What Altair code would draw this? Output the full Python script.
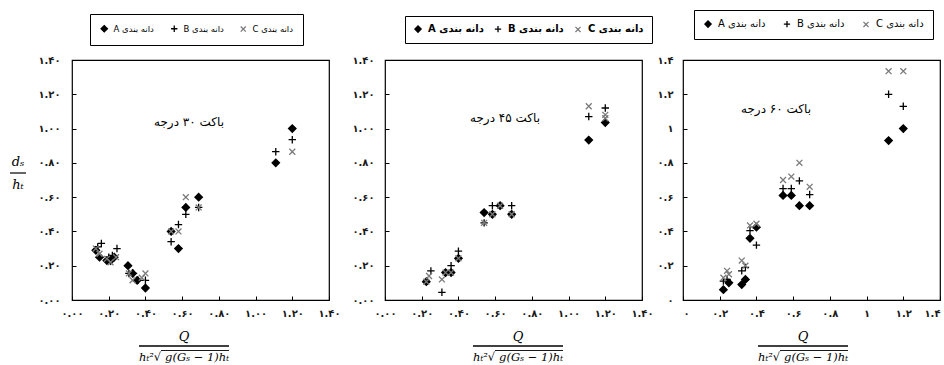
import altair as alt
import pandas as pd

SERIES = ["دانه بندی A", "دانه بندی B", "دانه بندی C"]

# Panel 1 : باکت ۳۰ درجه
p1_ax = [0.13, 0.15, 0.19, 0.21, 0.23, 0.305, 0.33, 0.355, 0.40, 0.54, 0.58, 0.62, 0.69, 1.11, 1.20]
p1_ay = [0.29, 0.25, 0.23, 0.23, 0.25, 0.20, 0.155, 0.115, 0.07, 0.40, 0.30, 0.54, 0.60, 0.80, 1.00]
p1_bx = [0.14, 0.16, 0.20, 0.22, 0.245, 0.31, 0.335, 0.36, 0.40, 0.54, 0.58, 0.62, 0.69, 1.11, 1.20]
p1_by = [0.31, 0.33, 0.25, 0.26, 0.30, 0.155, 0.155, 0.115, 0.115, 0.34, 0.44, 0.50, 0.54, 0.865, 0.935]
p1_cx = [0.13, 0.15, 0.19, 0.21, 0.24, 0.31, 0.33, 0.38, 0.40, 0.54, 0.58, 0.62, 0.69, 1.20]
p1_cy = [0.30, 0.27, 0.24, 0.22, 0.25, 0.155, 0.115, 0.13, 0.155, 0.40, 0.40, 0.60, 0.54, 0.865]

# Panel 2 : باکت ۴۵ درجه
p2_ax = [0.225, 0.33, 0.36, 0.40, 0.54, 0.585, 0.627, 0.69, 1.11, 1.20]
p2_ay = [0.107, 0.16, 0.16, 0.243, 0.51, 0.50, 0.55, 0.50, 0.933, 1.035]
p2_bx = [0.25, 0.31, 0.36, 0.40, 0.54, 0.585, 0.69, 1.11, 1.20]
p2_by = [0.17, 0.045, 0.20, 0.285, 0.45, 0.55, 0.55, 1.07, 1.12]
p2_cx = [0.225, 0.24, 0.31, 0.33, 0.36, 0.40, 0.54, 0.585, 0.627, 0.69, 1.11, 1.20, 1.20]
p2_cy = [0.107, 0.14, 0.12, 0.16, 0.16, 0.243, 0.45, 0.50, 0.55, 0.50, 1.13, 1.08, 1.06]

# Panel 3 : باکت ۶۰ درجه
p3_ax = [0.22, 0.25, 0.32, 0.34, 0.365, 0.40, 0.545, 0.59, 0.634, 0.69, 1.12, 1.20]
p3_ay = [0.06, 0.10, 0.09, 0.12, 0.36, 0.425, 0.61, 0.61, 0.55, 0.55, 0.93, 1.00]
p3_bx = [0.22, 0.24, 0.32, 0.34, 0.365, 0.40, 0.545, 0.59, 0.634, 0.69, 1.12, 1.20]
p3_by = [0.11, 0.12, 0.17, 0.19, 0.405, 0.32, 0.65, 0.65, 0.695, 0.615, 1.20, 1.13]
p3_cx = [0.22, 0.24, 0.25, 0.32, 0.34, 0.365, 0.40, 0.545, 0.59, 0.634, 0.69, 1.12, 1.20]
p3_cy = [0.13, 0.17, 0.15, 0.23, 0.20, 0.435, 0.445, 0.70, 0.72, 0.80, 0.66, 1.335, 1.335]

TICKS = [0, 0.2, 0.4, 0.6, 0.8, 1.0, 1.2, 1.4]
LABELS_2DP = ["۰.۰۰", "۰.۲۰", "۰.۴۰", "۰.۶۰", "۰.۸۰", "۱.۰۰", "۱.۲۰", "۱.۴۰"]
LABELS_1DP = ["۰", "۰.۲", "۰.۴", "۰.۶", "۰.۸", "۱", "۱.۲", "۱.۴"]
TITLES = ["باکت ۳۰ درجه", "باکت ۴۵ درجه", "باکت ۶۰ درجه"]

PLUS = "M-1,0L1,0M0,-1L0,1"
CROSS = "M-0.8,-0.8L0.8,0.8M-0.8,0.8L0.8,-0.8"
W, H = 257, 240
PERSIAN = "DejaVu Sans"
MATH = "DejaVu Serif"


def frame(ax, ay, bx, by, cx, cy):
    rows = []
    for name, xs, ys in zip(SERIES, [ax, bx, cx], [ay, by, cy]):
        for a, b in zip(xs, ys):
            rows.append({"x": a, "y": b, "g": name})
    return pd.DataFrame(rows)


def one():
    return alt.Data(values=[{}])


def text(t, x, y, size, font, style="normal", weight="normal", align="center"):
    return alt.Chart(one()).mark_text(
        text=t, fontSize=size, font=font, fontStyle=style, fontWeight=weight,
        align=align, baseline="middle", color="black"
    ).encode(x=alt.value(x), y=alt.value(y))


def rule(x1, x2, y, w=1.2):
    return alt.Chart(one()).mark_rule(color="black", strokeWidth=w).encode(
        x=alt.value(x1), x2=alt.value(x2), y=alt.value(y))


def label_expr(labels):
    arr = "[" + ",".join("'" + s + "'" for s in labels) + "]"
    return arr + "[round(datum.value*5)]"


def panel(df, labels, legend, title, tpos, cx, ylabpad, ytitle=False, flush=False):
    common = dict(values=TICKS, labelExpr=label_expr(labels), title=None, grid=False,
                  domain=False, tickSize=4, offset=-4, tickColor="black",
                  labelFont=PERSIAN, labelFontSize=10, labelFontWeight="bold",
                  labelColor="#1a1a1a")
    xaxis = alt.Axis(labelPadding=8, labelFlush=flush, **common)
    yaxis = alt.Axis(labelPadding=ylabpad, **common)
    pts = alt.Chart(df).mark_point(size=55, strokeWidth=1.3, opacity=1).encode(
        x=alt.X("x:Q", scale=alt.Scale(domain=[0, 1.4], nice=False), axis=xaxis),
        y=alt.Y("y:Q", scale=alt.Scale(domain=[0, 1.4], nice=False), axis=yaxis),
        shape=alt.Shape("g:N", scale=alt.Scale(domain=SERIES, range=["diamond", PLUS, CROSS]), legend=legend),
        fill=alt.Fill("g:N", scale=alt.Scale(domain=SERIES, range=["black", "transparent", "transparent"]), legend=legend),
        stroke=alt.Stroke("g:N", scale=alt.Scale(domain=SERIES, range=["black", "black", "#7a7a7a"]), legend=legend),
    )
    left = cx - 45
    layers = [
        pts,
        text(title, tpos[0], tpos[1], 12, PERSIAN),
        text("Q", cx, 277, 13, MATH, style="italic"),
        rule(cx - 45, cx + 45, 286, 1.5),
        text("hₜ²√", left, 298, 11.5, MATH, style="italic", align="left"),
        text("g(Gₛ − 1)hₜ", cx + 45, 298, 11.5, MATH, style="italic", align="right"),
        rule(cx - 23, cx + 45, 290.5, 0.9),
    ]
    if ytitle:
        layers += [
            text("dₛ", -54, 102, 13, MATH, style="italic"),
            rule(-62, -46, 113, 1.2),
            text("hₜ", -54, 125, 13, MATH, style="italic"),
        ]
    return alt.layer(*layers).properties(width=W, height=H)


def legend(x, y, size, weight, pad, colpad):
    return alt.Legend(
        title=None, orient="none", legendX=x, legendY=y, direction="horizontal",
        strokeColor="black", fillColor="white", padding=pad, columnPadding=colpad,
        labelFont=PERSIAN, labelFontSize=size, labelFontWeight=weight, labelColor="black",
        labelExpr="'\u202b' + datum.label + '\u202c'",
        symbolSize=40, symbolStrokeWidth=1.3, labelOffset=5,
    )


p1 = panel(frame(p1_ax, p1_ay, p1_bx, p1_by, p1_cx, p1_cy), LABELS_2DP,
           legend(18, -46, 8.5, "normal", 10, 14), TITLES[0], (117, 62), 112, 12, ytitle=True)
p2 = panel(frame(p2_ax, p2_ay, p2_bx, p2_by, p2_cx, p2_cy), LABELS_2DP,
           legend(20, -44, 10, "bold", 8, 8), TITLES[1], (120, 58), 133, 11)
p3 = panel(frame(p3_ax, p3_ay, p3_bx, p3_by, p3_cx, p3_cy), LABELS_1DP,
           legend(11, -50, 10, "normal", 9, 15), TITLES[2], (93, 49), 120, 10, flush=True)

res = dict(shape="independent", fill="independent", stroke="independent")
inner = alt.hconcat(p2, p3, spacing=41, bounds="flush").resolve_scale(
    x="independent", y="independent", **res).resolve_legend(**res)
chart = alt.hconcat(p1, inner, spacing=56, bounds="flush").resolve_scale(
    x="independent", y="independent", **res).resolve_legend(**res)
chart = chart.properties(
    padding={"left": 8, "top": 8, "right": 0, "bottom": 0}
).configure_view(stroke="black", strokeWidth=1.2)

chart.save("out.html", embed_options={"renderer": "svg", "actions": False})
